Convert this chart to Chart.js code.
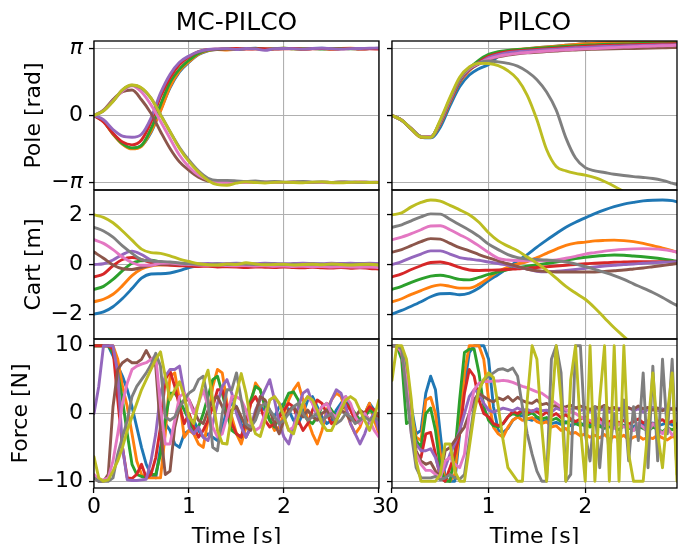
<!DOCTYPE html>
<html><head><meta charset="utf-8">
<script src="https://cdn.jsdelivr.net/npm/chart.js@4.4.1/dist/chart.umd.min.js"></script>
<style>
html,body{margin:0;padding:0;background:#fff;overflow:hidden;width:683px;height:544px;}
canvas{position:absolute;left:0;top:0;}
</style></head><body>
<canvas id="p0" width="683" height="550"></canvas>
<canvas id="p1" width="683" height="550"></canvas>
<canvas id="p2" width="683" height="550"></canvas>
<canvas id="p3" width="683" height="550"></canvas>
<canvas id="p4" width="683" height="550"></canvas>
<canvas id="p5" width="683" height="550"></canvas>
<script>
// ---------- time axes ----------
const timeCoarseL = [0,0.1,0.2,0.3,0.4,0.5,0.6,0.7,0.8,0.9,1.0,1.1,1.2,1.3,1.4,1.5,1.6,1.7,1.8,1.9,2.0,2.1,2.2,2.3,2.4,2.5,2.6,2.7,2.8,2.9,3.0];
const timeCoarseR = [0,0.1,0.2,0.3,0.4,0.5,0.6,0.7,0.8,0.9,1.0,1.1,1.2,1.3,1.4,1.5,1.6,1.7,1.8,1.9,2.0,2.1,2.2,2.3,2.4,2.5,2.6,2.7,2.8,2.9,2.95];
const timeFineL = [0,0.05,0.1,0.15,0.2,0.25,0.3,0.35,0.4,0.45,0.5,0.55,0.6,0.65,0.7,0.75,0.8,0.85,0.9,0.95,1.0,1.05,1.1,1.15,1.2,1.25,1.3,1.35,1.4,1.45,1.5,1.55,1.6,1.65,1.7,1.75,1.8,1.85,1.9,1.95,2.0,2.05,2.1,2.15,2.2,2.25,2.3,2.35,2.4,2.45,2.5,2.55,2.6,2.65,2.7,2.75,2.8,2.85,2.9,2.95,3.0];
const timeFineR = [0,0.05,0.1,0.15,0.2,0.25,0.3,0.35,0.4,0.45,0.5,0.55,0.6,0.65,0.7,0.75,0.8,0.85,0.9,0.95,1.0,1.05,1.1,1.15,1.2,1.25,1.3,1.35,1.4,1.45,1.5,1.55,1.6,1.65,1.7,1.75,1.8,1.85,1.9,1.95,2.0,2.05,2.1,2.15,2.2,2.25,2.3,2.35,2.4,2.45,2.5,2.55,2.6,2.65,2.7,2.75,2.8,2.85,2.9,2.95];

// ---------- tick labels ----------
const timeTicksL = [0,1,2,3];
const timeTicksR = [0,1,2];
const poleTicks = [-Math.PI, 0, Math.PI];
const poleTickLabels = ['\u2212\u03c0', '0', '\u03c0'];
const cartTicks = [-2, 0, 2];
const cartTickLabels = ['\u22122', '0', '2'];
const forceTicks = [-10, 0, 10];
const forceTickLabels = ['\u221210', '0', '10'];

// ---------- MC-PILCO pole [rad] ----------
const mcPoleBlue   = [0,-0.26,-0.86,-1.33,-1.55,-1.42,-0.8,0.25,1.3,2.05,2.5,2.86,3.04,3.1,3.12,3.1,3.14,3.16,3.12,3.13,3.15,3.14,3.12,3.15,3.16,3.13,3.14,3.15,3.13,3.14,3.15];
const mcPoleOrange = [0,-0.28,-0.88,-1.35,-1.57,-1.45,-0.75,0.2,1.35,2.1,2.53,2.88,3.05,3.1,3.08,3.12,3.15,3.13,3.1,3.14,3.16,3.13,3.12,3.15,3.14,3.12,3.15,3.16,3.13,3.14,3.14];
const mcPoleGreen  = [0,-0.27,-0.85,-1.32,-1.52,-1.4,-0.62,0.5,1.55,2.18,2.6,2.92,3.07,3.1,3.13,3.12,3.14,3.15,3.12,3.14,3.16,3.13,3.14,3.15,3.12,3.14,3.15,3.13,3.14,3.15,3.14];
const mcPoleRed    = [0,-0.3,-0.84,-1.25,-1.38,-1.15,-0.3,0.88,1.77,2.4,2.76,3.0,3.1,3.12,3.13,3.15,3.12,3.13,3.14,3.12,3.13,3.15,3.12,3.13,3.14,3.12,3.13,3.14,3.12,3.13,3.12];
const mcPolePurple = [0,-0.2,-0.66,-0.97,-1.02,-0.88,-0.12,1.05,1.93,2.5,2.8,3.0,3.1,3.13,3.14,3.1,3.15,3.13,3.06,3.14,3.15,3.14,3.12,3.15,3.16,3.14,3.12,3.14,3.15,3.16,3.17];
const mcPoleBrown  = [0,0.25,0.75,1.12,1.2,0.74,0.1,-0.75,-1.55,-2.18,-2.58,-2.9,-3.08,-3.12,-3.13,-3.14,-3.12,-3.14,-3.15,-3.13,-3.14,-3.12,-3.14,-3.15,-3.13,-3.14,-3.12,-3.14,-3.13,-3.14,-3.15];
const mcPolePink   = [0,0.22,0.68,1.15,1.4,1.1,0.5,-0.27,-1.08,-1.87,-2.42,-2.8,-3.02,-3.12,-3.14,-3.13,-3.15,-3.14,-3.12,-3.14,-3.15,-3.13,-3.12,-3.14,-3.15,-3.16,-3.13,-3.14,-3.12,-3.14,-3.13];
const mcPoleGray   = [0,0.22,0.67,1.2,1.42,1.28,0.82,0.05,-0.75,-1.5,-2.1,-2.6,-2.95,-3.05,-3.05,-3.07,-3.1,-3.08,-3.12,-3.1,-3.13,-3.12,-3.1,-3.13,-3.12,-3.14,-3.13,-3.12,-3.14,-3.13,-3.14];
const mcPoleOlive  = [0,0.22,0.66,1.21,1.43,1.3,0.82,0.03,-0.75,-1.55,-2.17,-2.66,-3.05,-3.25,-3.28,-3.18,-3.12,-3.15,-3.17,-3.14,-3.13,-3.15,-3.16,-3.13,-3.12,-3.15,-3.16,-3.14,-3.13,-3.15,-3.14];

// ---------- PILCO pole [rad] ----------
const plPoleBlue   = [0,-0.22,-0.64,-1.02,-1.05,-0.55,0.45,1.35,1.9,2.2,2.4,2.78,2.98,3.08,3.14,3.18,3.22,3.26,3.3,3.34,3.38,3.4,3.41,3.42,3.43,3.44,3.45,3.45,3.46,3.46,3.46];
const plPoleOrange = [0,-0.22,-0.64,-1.02,-1.03,-0.4,0.6,1.55,2.1,2.5,2.8,2.95,3.05,3.1,3.14,3.18,3.22,3.26,3.3,3.34,3.37,3.39,3.41,3.42,3.43,3.44,3.45,3.46,3.47,3.47,3.47];
const plPoleGreen  = [0,-0.22,-0.63,-1.0,-1.02,-0.35,0.65,1.6,2.2,2.6,2.87,3.0,3.06,3.1,3.13,3.16,3.19,3.22,3.25,3.28,3.3,3.32,3.34,3.35,3.36,3.37,3.38,3.39,3.4,3.41,3.42];
const plPoleRed    = [0,-0.22,-0.63,-1.0,-1.02,-0.35,0.65,1.6,2.15,2.5,2.78,2.92,3.0,3.04,3.07,3.1,3.13,3.16,3.19,3.22,3.25,3.27,3.29,3.3,3.31,3.33,3.34,3.35,3.36,3.37,3.38];
const plPolePurple = [0,-0.22,-0.62,-0.99,-1.01,-0.32,0.7,1.62,2.15,2.45,2.72,2.86,2.95,3.0,3.03,3.06,3.09,3.12,3.15,3.18,3.2,3.22,3.24,3.25,3.27,3.28,3.29,3.3,3.31,3.32,3.33];
const plPoleBrown  = [0,-0.22,-0.62,-0.98,-1.0,-0.3,0.72,1.65,2.15,2.42,2.62,2.75,2.84,2.9,2.94,2.97,3.0,3.03,3.06,3.08,3.1,3.11,3.12,3.13,3.14,3.15,3.16,3.17,3.18,3.19,3.2];
const plPolePink   = [0,-0.22,-0.62,-0.98,-1.0,-0.28,0.75,1.7,2.2,2.45,2.65,2.78,2.86,2.92,2.96,3.0,3.03,3.06,3.09,3.11,3.13,3.15,3.17,3.19,3.21,3.23,3.25,3.26,3.28,3.29,3.3];
const plPoleGray   = [0,-0.22,-0.62,-0.99,-1.02,-0.25,0.78,1.72,2.25,2.48,2.56,2.52,2.45,2.32,2.06,1.68,1.1,0.25,-1.05,-2.0,-2.45,-2.6,-2.68,-2.76,-2.82,-2.87,-2.91,-2.96,-3.05,-3.18,-3.25];
const plPoleOlive  = [0,-0.22,-0.63,-1.01,-1.03,-0.2,0.85,1.8,2.28,2.45,2.44,2.34,2.1,1.7,0.95,-0.2,-1.6,-2.4,-2.6,-2.72,-2.8,-2.92,-3.1,-3.32,-3.58,-3.8,-4.0,-4.2,-4.4,-4.6,-4.7];

// ---------- MC-PILCO cart [m] ----------
const mcCartBlue   = [-2.0,-1.91,-1.7,-1.37,-0.97,-0.55,-0.38,-0.37,-0.34,-0.25,-0.12,-0.05,0.0,0.02,0.01,0.02,0.0,0.01,0.02,0.0,0.01,0.0,0.01,0.02,0.0,0.01,0.0,0.01,0.02,0.01,0.0];
const mcCartOrange = [-1.5,-1.4,-1.2,-0.85,-0.45,-0.18,-0.06,-0.02,0.0,0.01,0.0,-0.02,0.0,0.01,-0.01,0.0,-0.02,0.0,0.01,-0.01,0.0,-0.02,-0.01,0.0,-0.02,-0.01,0.0,-0.01,-0.02,0.0,-0.01];
const mcCartGreen  = [-1.0,-0.88,-0.6,-0.25,0.05,0.15,0.17,0.1,0.05,0.02,0.0,-0.01,0.0,0.01,-0.01,-0.02,0.0,-0.01,-0.02,-0.01,0.0,-0.02,-0.03,-0.01,-0.02,-0.03,-0.02,-0.01,-0.03,-0.02,-0.03];
const mcCartRed    = [-0.5,-0.38,-0.05,0.2,0.28,0.2,0.08,0.0,-0.03,-0.05,-0.06,-0.08,-0.07,-0.1,-0.09,-0.1,-0.12,-0.1,-0.11,-0.12,-0.1,-0.12,-0.13,-0.11,-0.13,-0.14,-0.12,-0.15,-0.13,-0.16,-0.18];
const mcCartPurple = [0.0,0.03,0.18,0.4,0.54,0.4,0.17,0.06,0.04,0.03,0.02,0.03,0.04,0.03,0.04,0.05,0.04,0.03,0.05,0.04,0.03,0.04,0.05,0.04,0.03,0.05,0.04,0.05,0.04,0.05,0.04];
const mcCartBrown  = [0.5,0.25,-0.02,-0.17,-0.2,-0.12,-0.03,0.0,0.02,0.01,0.0,-0.01,0.0,-0.02,-0.01,0.0,-0.02,-0.01,-0.03,-0.02,-0.01,-0.03,-0.02,-0.04,-0.03,-0.02,-0.04,-0.03,-0.05,-0.04,-0.05];
const mcCartPink   = [1.0,0.85,0.6,0.3,0.08,-0.03,-0.03,0.05,0.06,0.02,0.0,-0.02,-0.03,-0.02,-0.04,-0.05,-0.04,-0.06,-0.05,-0.07,-0.06,-0.08,-0.07,-0.09,-0.08,-0.1,-0.09,-0.1,-0.11,-0.1,-0.12];
const mcCartGray   = [1.5,1.35,1.1,0.75,0.45,0.2,0.14,0.12,0.1,0.06,0.03,0.01,0.0,0.01,0.0,0.02,0.01,0.0,0.01,0.02,0.0,0.01,0.0,0.02,0.01,0.0,0.01,0.0,0.02,0.01,0.0];
const mcCartOlive  = [2.0,1.9,1.68,1.35,0.98,0.62,0.48,0.45,0.35,0.22,0.12,0.03,-0.01,-0.02,0.02,0.0,0.07,0.02,-0.01,0.0,0.01,-0.02,0.0,0.01,-0.01,0.02,0.0,-0.02,0.0,0.01,-0.02];

// ---------- PILCO cart [m] ----------
const plCartBlue   = [-2.0,-1.85,-1.68,-1.5,-1.3,-1.18,-1.17,-1.22,-1.15,-0.95,-0.65,-0.4,-0.13,0.15,0.4,0.7,0.98,1.25,1.5,1.7,1.88,2.05,2.2,2.33,2.43,2.5,2.56,2.59,2.6,2.57,2.52];
const plCartOrange = [-1.5,-1.38,-1.2,-1.05,-0.9,-0.82,-0.88,-0.95,-0.95,-0.8,-0.55,-0.28,-0.1,0.02,0.12,0.28,0.45,0.62,0.77,0.86,0.9,0.95,0.97,0.98,0.96,0.92,0.85,0.76,0.66,0.56,0.5];
const plCartGreen  = [-1.0,-0.88,-0.72,-0.58,-0.47,-0.43,-0.5,-0.6,-0.62,-0.52,-0.4,-0.3,-0.2,-0.13,-0.07,-0.01,0.04,0.1,0.17,0.24,0.29,0.33,0.36,0.38,0.37,0.34,0.31,0.27,0.22,0.16,0.13];
const plCartRed    = [-0.5,-0.38,-0.2,-0.05,0.08,0.1,0.02,-0.12,-0.22,-0.24,-0.23,-0.22,-0.2,-0.17,-0.15,-0.12,-0.09,-0.06,-0.03,0.0,0.03,0.05,0.07,0.09,0.1,0.11,0.11,0.11,0.11,0.1,0.1];
const plCartPurple = [0.0,0.12,0.28,0.42,0.55,0.55,0.42,0.28,0.22,0.17,0.1,0.04,-0.03,-0.1,-0.18,-0.27,-0.29,-0.27,-0.24,-0.2,-0.15,-0.1,-0.06,-0.03,0.0,0.02,0.05,0.07,0.09,0.1,0.11];
const plCartBrown  = [0.5,0.6,0.76,0.92,1.04,1.02,0.85,0.68,0.55,0.4,0.27,0.15,0.03,-0.08,-0.19,-0.25,-0.28,-0.3,-0.3,-0.3,-0.3,-0.3,-0.28,-0.25,-0.22,-0.18,-0.14,-0.09,-0.04,0.01,0.04];
const plCartPink   = [1.0,1.1,1.24,1.4,1.55,1.56,1.4,1.2,1.0,0.75,0.48,0.25,0.18,0.16,0.15,0.15,0.16,0.18,0.25,0.33,0.42,0.48,0.54,0.58,0.61,0.63,0.64,0.63,0.6,0.54,0.5];
const plCartGray   = [1.5,1.6,1.76,1.92,2.04,2.03,1.82,1.6,1.38,1.13,0.82,0.6,0.4,0.28,0.22,0.2,0.18,0.15,0.1,0.02,-0.08,-0.2,-0.32,-0.45,-0.6,-0.78,-0.95,-1.13,-1.33,-1.55,-1.65];
const plCartOlive  = [2.0,2.08,2.32,2.5,2.6,2.55,2.38,2.2,2.0,1.7,1.28,0.95,0.74,0.55,0.3,0.05,-0.23,-0.55,-0.88,-1.15,-1.4,-1.75,-2.15,-2.55,-2.9,-3.25,-3.6,-3.95,-4.3,-4.65,-4.8];

// ---------- MC-PILCO force [N] ----------
const mcForceBlue   = [10,10,10,10,8.5,7,5.5,3.5,1,-2, -5,-7.5,-9,-9.5,-5,-1.5,-2.5,-4.5,-5,-3, -2.5,-1,-2.5,-3.5,-3,-3.5,-4,-2,0.5,1.5, 1,-1.5,-3.5,-2,0,1,0.5,-1,-0.5,1, 1.5,0.5,-1,-1.5,0,2,2.5,1,-0.5,-1.5, -1,0.5,1.5,2.5,1,-0.5,-1,0,1.5,0.5, -0.5];
const mcForceOrange = [10,10,10,10,10,8,4,1,-3,-7, -9,-9.5,-9.5,-9.5,-9.5,-3,5.5,6,2,-3.5, -2.5,-3,-4.5,-5,-1,4,6.5,6,1.5,-0.5, -3,-4.5,-2,1.5,4.5,3.5,1,-1,-2.5,-2, 0,2,3.5,4.5,2,-1,-3,-4.5,-2.5,0.5, 2,3,2.5,0.5,-1.5,-3,-2,0,1.5,-1, -3];
const mcForceGreen  = [10,10,10,10,9,6,2,-3,-7.5,-9, -9.3,-9.5,-9,-9,-6,-1,3,3,2,0.5, -1,-2.5,-2,0,2.5,5,5.5,3,0,-2.5, -3,-3.5,-1,2,4,3.5,1,-1,-2,-0.5, 1.5,3,3.2,2,0,-1,-1.5,-0.5,1,1.5, 0.5,-0.5,0.5,1.5,1,0,-1,-0.5,0.5,0, -0.5];
const mcForceRed    = [10,10,10,10,9.5,2,-5,-9.5,-9.6,-9, -7.5,-9.5,-9,-6.5,-2,5,6.3,4,1,-1.5, 0,-2,-3.5,-2.5,-1,1,3.5,3.5,1,-1.5, -3,-3.5,-1,1.5,2.5,1,-1,-2,-1.5,-0.5, 0.5,1.5,1,-1,-2.5,-1.5,0.5,2,1.5,0, -1.5,-1,0.5,1.5,0.5,-1,-1.5,0,1,0.5, -0.5];
const mcForcePurple = [0,4,10,10,10,6,-5,-9.8,-9.9,-9.9, -9.8,-9.7,-7,-3,3,5.5,6.5,6.5,7,3, -2,-3,-2,-3.5,-4,-1.5,1.5,4,5,3, 0,-2,-3.5,-2,0.5,2,3.5,5,2,-1.5, -3.5,-4.5,-2,1,3,3.5,1.5,-0.5,-1.5,0, 2,3.5,3,1,-1.5,-3,-4.5,-3,-1,0, -2.5];
const mcForceBrown  = [-9.5,-10,-10,-9,1,6.5,7.5,8,7.5,7.5, 8,9.3,8,7,-2.5,-9,-8.5,-2,1,2, 2,0.5,-1,-1.5,0.5,2,2.5,1,-0.5,0.5, 1,-0.5,-2,-2.5,0,2.5,2,0.5,-1.5,-3, -1,0.5,1,0,-0.5,0.5,-0.5,-1,0,0.5, -0.5,-1,0.5,0,-1,-0.5,0.5,0,-1,-0.5, 0];
const mcForcePink   = [-9,-9.8,-9.8,-9.5,-7,-3,1.5,4.5,6.5,7, 7.3,7.5,8,8.5,1,-4.5,-4.5,-1,2.5,3, 2,0,1.5,3.5,1,-2,-3.5,-3,-0.5,2.5, 2.5,2,0.5,-1.5,-2.5,-2,0,2,2.5,1.5, -0.5,-2.5,-2,-0.5,1.5,2.5,1.5,0,1,1.5, 0,-0.5,1,2.5,1.5,-0.5,-1.5,0,-1,-2.5, -3.5];
const mcForceGray   = [-9.5,-10,-10,-10,-9.5,-6,-3.5,-1,2.5,4, 5,6,7.2,8.9,7,-0.5,-1,-0.5,1,2, 3,3.5,5,5.5,2,-5,-5.5,0,3.5,3.5, 6,2,-1.5,-2,-1,1,1.5,0.5,-0.5,-1.5, -1,0,1,1.5,0,-1,-0.5,0,-1,-0.5, 0,-1.5,-1,0,-0.5,-1.5,-1,-0.5,-1,-0.5, -1];
const mcForceOlive  = [-6.4,-9.5,-10,-9.8,-8.5,-7,-5,-2.5,-0.5,1.5, 3.5,5,6.5,8,9.1,5.5,2,3.5,4.7,2.5, -0.5,-1.5,1.5,4.5,6.4,2,-2.5,-4.4,-4.5,0, 3,5.9,3,-1,-3,-3.4,-1,2,2.5,1.5, -0.5,-2.5,-3,-0.5,1.5,2.5,2,0.5,-1.5,-2.5, -2.5,-1,0.5,2,2.5,2,0.5,-1,-2.5,-0.5, 2];

// ---------- PILCO force [N] ----------
const plForceBlue   = [10,10,9.8,6,1,-3,-2.5,3,5.5,3.5, -3,-9.5,-10,-10,-3,4,9,10,10,10, 8,1,-2.5,-2.8,-2.2,-1,-0.5,-0.3,-0.8,-1.0, -0.6,-1.2,-1.0,-1.5,-1.3,-1.6,-1.2,-1.8,-1.5,-1.4, -1.9,-1.6,-1.3,-1.8,-1.5,-2.0,-1.6,-1.4,-1.8,-1.6, -2.0,-1.5,-1.7,-1.9,-1.4,-1.8,-1.6,-1.3,-1.7,-1.5];
const plForceOrange = [10,10,9.5,3,0,-3.5,-4,2,2.4,0, -6,-9.8,-10,-9,-2,6,10,10,10,8, 2,-2,-3,-3.5,-2,-1,-0.5,-1,-0.8,-0.6, -1.2,-1.5,-1.2,-2,-1.8,-2.5,-2.2,-3,-2.8,-3.3, -3,-3.5,-3.2,-3.6,-3.1,-3.8,-3.4,-3.6,-3.2,-3.9, -3.5,-3.3,-3.8,-3.5,-3.7,-3.2,-3.6,-3.9,-3.4,-3.6];
const plForceGreen  = [10,10,8,-1.5,-1,-4,-5,0,0.8,-2.5, -8,-10,-10,-6,2,9,9.5,9.5,6,1, -1,-1.8,-2,-1.5,-0.5,0,-0.3,0.2,-0.2,0.1, -0.5,-0.8,-0.6,-1,-0.7,-1.2,-1.4,-1.0,-1.5,-1.8, -1.4,-2.0,-1.6,-1.9,-2.2,-1.7,-2.0,-2.4,-1.8,-2.1, -2.5,-1.9,-2.2,-2.6,-2.0,-2.3,-2.7,-2.1,-2.4,-2.0];
const plForceRed    = [10,10,9,4,-1,-6,-6.5,-3,-2.8,-6, -9.5,-10,-8,-6,-3,3,6.5,5.5,2,0, -0.5,-1.5,-1.8,-1.5,-0.5,0.3,0,0.5,0.1,0.4, 0.3,-0.3,0.2,-0.4,0,-0.6,-0.2,-0.8,-1.2,-0.8, -0.5,-1.3,-1,-0.7,-1.5,-1.2,-0.9,-1.4,-1,-1.6, -1.2,-0.8,-1.4,-1.1,-1.7,-1.2,-0.9,-1.5,-1.1,-1.8];
const plForcePurple = [10,10,9,5,-2,-4.5,-5.5,-5.5,-5.2,-6.5, -9,-8,-6,-4.5,-2.5,0,2.5,3.5,3,1.5, 0.5,0.2,0.5,0.8,0.6,0.4,0.8,0.5,0.6,0.3, 0.7,0.4,0.5,0.2,0.8,0.5,0.3,0.6,0.9,0.4, 0.8,0.3,0.9,0.5,0.7,0.2,0.6,0.8,0.3,0.9, 0.4,0.7,0.2,0.6,0.9,0.4,0.7,0.3,0.8,0.5];
const plForceBrown  = [10,10,9,5,-1,-5.5,-7,-7.5,-7.2,-8.5, -9.5,-5.5,-5,-4,-3,-2,0,2,3,2.5, 2,1.7,2.3,2,2.5,1.8,2.4,1.9,1.6,1.5, 2,1.3,1.5,1.0,1.2,0.9,1.0,1.2,0.8,1.1, 0.9,0.6,1.0,0.8,1.2,0.7,0.9,0.5,1.0,0.8, 0.6,1.1,0.7,0.9,0.5,0.8,0.4,0.9,0.6,0.7];
const plForcePink   = [10,10,9,5,-3,-6,-7.5,-8.4,-8.4,-9, -9.5,-7,-6.5,-7.5,-8,-6,0,3.5,4.5,4.7, 4.7,4.8,4.8,4.9,4.8,4.6,4.3,4,3.8,3.5, 3.2,3,2.5,2,1.5,1.0,0.6,0.2,0,-0.5, -0.8,-1,-1.5,-1.2,-1.8,-1.5,-2.2,-1.5,-2,-1.8, -2.5,-1.5,-2,-2.8,-1.5,-2.2,-3,-2,-3.2,-2.5];
const plForceGray   = [10,10,9.5,3,-3,-8,-9.5,-9.5,-9.5,-9.3, -9.8,-9.5,-9,-9.5,-9.7,-9,-4,1,3.5,5, 5.5,6,6.5,6.6,6.3,6.7,5.5,1,-3,-6, -8.5,-10,-10,8,10,6,-10,-9,10,10, -3,-7,1,-8,1,-6,0,-5,2,-7, 1,-4,6,-8,7,-7,8,-3,8,-9];
const plForceOlive  = [4.9,10,10,8,2,-7,-10,-10,-10,-10, -9,-4.5,-4.5,-8.5,-10,-10,-5,0,3.5,5, 6,5.3,1,-4,-8,-9,-10,-10,2,10, 8,-2,-10,0,10,2,-10,5,10,-2, -10,10,-10,2,10,-10,10,-10,10,-6, -10,-10,-10,-2,6,-3,-8,0,6,-10];

// ---------- styling ----------
const COLORS = ['#1f77b4','#ff7f0e','#2ca02c','#d62728','#9467bd','#8c564b','#e377c2','#7f7f7f','#bcbd22'];
const FONT = 'DejaVu Sans';
const PAGE_W = 683, CANVAS_H = 550;
const colX = [[94, 379], [392, 677]];
const rowY = [[41, 190], [190, 339], [339, 488]];

const panels = [
  {cv:'p0', col:0, row:0, title:'MC-PILCO', t:timeCoarseL, xMax:3, xTicks:timeTicksL, smooth:true,
   series:[mcPoleBlue,mcPoleOrange,mcPoleGreen,mcPoleRed,mcPolePurple,mcPoleBrown,mcPolePink,mcPoleGray,mcPoleOlive],
   yMin:-3.5, yMax:3.5, yTicks:poleTicks, yLabels:poleTickLabels, yTitle:'Pole [rad]', yTitlePad:21, italic:true},
  {cv:'p1', col:1, row:0, title:'PILCO', t:timeCoarseR, xMax:2.95, xTicks:timeTicksR, smooth:true,
   series:[plPoleBlue,plPoleOrange,plPoleGreen,plPoleRed,plPolePurple,plPoleBrown,plPolePink,plPoleGray,plPoleOlive],
   yMin:-3.5, yMax:3.5, yTicks:poleTicks, yLabels:poleTickLabels},
  {cv:'p2', col:0, row:1, t:timeCoarseL, xMax:3, xTicks:timeTicksL, smooth:true,
   series:[mcCartBlue,mcCartOrange,mcCartGreen,mcCartRed,mcCartPurple,mcCartBrown,mcCartPink,mcCartGray,mcCartOlive],
   yMin:-3, yMax:3, yTicks:cartTicks, yLabels:cartTickLabels, yTitle:'Cart [m]', yTitlePad:21},
  {cv:'p3', col:1, row:1, t:timeCoarseR, xMax:2.95, xTicks:timeTicksR, smooth:true,
   series:[plCartBlue,plCartOrange,plCartGreen,plCartRed,plCartPurple,plCartBrown,plCartPink,plCartGray,plCartOlive],
   yMin:-3, yMax:3, yTicks:cartTicks, yLabels:cartTickLabels},
  {cv:'p4', col:0, row:2, t:timeFineL, xMax:3, xTicks:timeTicksL, smooth:false,
   series:[mcForceBlue,mcForceOrange,mcForceGreen,mcForceRed,mcForcePurple,mcForceBrown,mcForcePink,mcForceGray,mcForceOlive],
   yMin:-11, yMax:11, yTicks:forceTicks, yLabels:forceTickLabels, yTitle:'Force [N]', yTitlePad:8},
  {cv:'p5', col:1, row:2, t:timeFineR, xMax:2.95, xTicks:timeTicksR, smooth:false,
   series:[plForceBlue,plForceOrange,plForceGreen,plForceRed,plForcePurple,plForceBrown,plForcePink,plForceGray,plForceOlive],
   yMin:-11, yMax:11, yTicks:forceTicks, yLabels:forceTickLabels}
];

const framePlugin = {
  id: 'frame',
  afterDraw(chart) {
    const a = chart.chartArea, ctx = chart.ctx;
    ctx.save();
    ctx.strokeStyle = '#000';
    ctx.lineWidth = 1.3;
    ctx.strokeRect(a.left, a.top, a.right - a.left, a.bottom - a.top);
    ctx.restore();
  }
};

panels.forEach(p => {
  const [x0, x1] = colX[p.col];
  const [y0, y1] = rowY[p.row];
  const W = p.col === 0 ? 94 : 10;
  const bottomRow = p.row === 2;
  const H = bottomRow ? CANVAS_H - y1 : 0;
  const padding = {
    left: x0 - W,
    right: PAGE_W - x1,
    top: p.row === 0 ? 0 : y0,
    bottom: bottomRow ? 0 : CANVAS_H - y1
  };
  const n = p.series.length;
  const datasets = p.series.map((vals, i) => ({
    data: p.t.map((tt, k) => ({x: tt, y: vals[k]})),
    borderColor: COLORS[i],
    backgroundColor: COLORS[i],
    borderWidth: 2.9,
    pointRadius: 0,
    fill: false,
    cubicInterpolationMode: p.smooth ? 'monotone' : 'default',
    tension: 0,
    borderJoinStyle: 'round',
    borderCapStyle: 'round',
    order: n - i,
    clip: 0
  }));
  new Chart(document.getElementById(p.cv), {
    type: 'line',
    data: {datasets},
    plugins: [framePlugin],
    options: {
      responsive: false,
      animation: false,
      devicePixelRatio: 1,
      events: [],
      layout: {padding},
      plugins: {
        legend: {display: false},
        tooltip: {enabled: false},
        title: {
          display: p.row === 0,
          text: p.title || '',
          fullSize: false,
          color: '#000',
          font: {family: FONT, size: 25, weight: 'normal', lineHeight: 1.2},
          padding: {top: 8, bottom: 3}
        }
      },
      scales: {
        x: {
          type: 'linear', min: 0, max: p.xMax,
          afterBuildTicks: s => { s.ticks = p.xTicks.map(v => ({value: v})); },
          afterFit: s => { s.height = H; s.paddingLeft = 0; s.paddingRight = 0; },
          border: {display: false},
          grid: {color: '#b0b0b0', lineWidth: 1.1, drawTicks: bottomRow, tickLength: 5, tickColor: '#000', tickWidth: 1.3},
          ticks: {display: bottomRow, autoSkip: false, maxRotation: 0, padding: 1, color: '#000',
                  font: {family: FONT, size: 22, lineHeight: 1.2},
                  callback: v => String(v)},
          title: {display: bottomRow, text: 'Time [s]', color: '#000',
                  font: {family: FONT, size: 22, lineHeight: 1.2}, padding: {top: 0, bottom: 0}}
        },
        y: {
          type: 'linear', min: p.yMin, max: p.yMax,
          afterBuildTicks: s => { s.ticks = p.yTicks.map(v => ({value: v})); },
          afterFit: s => { s.width = W; s.paddingTop = 0; s.paddingBottom = 0; },
          border: {display: false},
          grid: {color: '#b0b0b0', lineWidth: 1.1, drawTicks: true, tickLength: 5, tickColor: '#000', tickWidth: 1.3},
          ticks: {display: p.col === 0, padding: 6, color: '#000',
                  font: ctx => ({family: FONT, size: 22, lineHeight: 1.2,
                                 style: (p.italic && ctx.tick && ctx.tick.value !== 0) ? 'italic' : 'normal'}),
                  callback: (v) => { const i = p.yTicks.findIndex(t => Math.abs(t - v) < 1e-9); return i >= 0 ? p.yLabels[i] : ''; }},
          title: {display: p.col === 0, text: p.yTitle || '', color: '#000',
                  font: {family: FONT, size: 22, lineHeight: 1.2}, padding: {top: p.yTitlePad || 0, bottom: 0}}
        }
      }
    }
  });
});
</script>
</body></html>
